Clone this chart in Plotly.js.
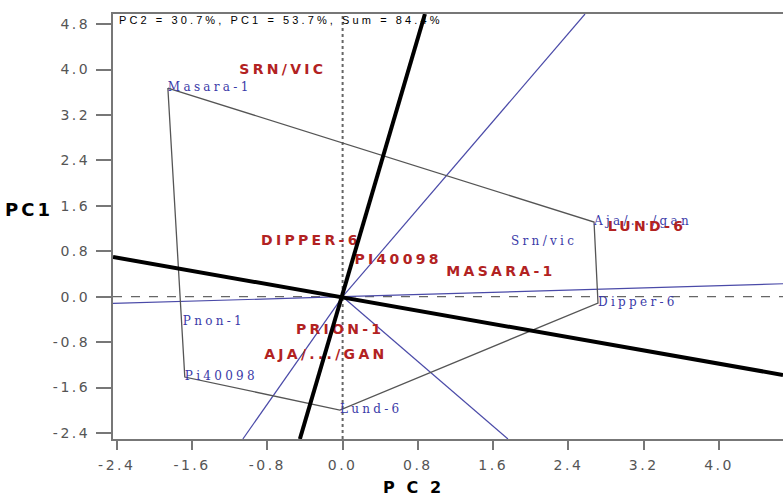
<!DOCTYPE html>
<html>
<head>
<meta charset="utf-8">
<script src="https://cdn.plot.ly/plotly-3.0.1.min.js"></script>
<style>
  html, body { margin: 0; padding: 0; background: #fff; }
  #chart { width: 783px; height: 496px; }
  .xtick text, .ytick text { letter-spacing: 2.5px; }
  .textpoint text { letter-spacing: 3.3px; }
  .annotation-text { letter-spacing: 3.1px; }
</style>
</head>
<body>
<div id="chart"></div>
<script>
// Genotypes (blue labels)
var genotypes = ['Masara-1', 'Aja/.../gan', 'Srn/vic', 'Dipper-6', 'Lund-6', 'Pi40098', 'Pnon-1'];
var genoX = [-1.857, 2.672, 1.79, 2.714, -0.029, -1.677, -1.698];
var genoY = [3.674, 1.315, 0.963, -0.111, -1.995, -1.414, -0.445];

// Polygon (convex hull) vertex order
var hullOrder = ['Masara-1', 'Aja/.../gan', 'Dipper-6', 'Lund-6', 'Pi40098', 'Masara-1'];

// Environments (red labels)
var environments = ['SRN/VIC', 'DIPPER-6', 'PI40098', 'MASARA-1', 'LUND-6', 'PRION-1', 'AJA/.../GAN'];
var envX = [-0.635, -0.337, 0.59, 1.683, 3.235, -0.026, -0.178];
var envY = [3.99, 0.98, 0.646, 0.435, 1.227, -0.586, -1.04];

// Rays from origin perpendicular to polygon sides (end points)
var rayEndX = [2.576, 4.68, 1.757, -1.06, -2.44];
var rayEndY = [4.977, 0.228, -2.505, -2.505, -0.119];

// Thick black axes
var axisAX = [-2.44, 4.68];
var axisAY = [0.699, -1.378];
var axisBX = [-0.454, 0.875];
var axisBY = [-2.505, 4.977];

// Tick values / labels
var xTickVals = [-2.4, -1.6, -0.8, 0.0, 0.8, 1.6, 2.4, 3.2, 4.0];
var xTickText = ['-2.4', '-1.6', '-0.8', '0.0', '0.8', '1.6', '2.4', '3.2', '4.0'];
var yTickVals = [-2.4, -1.6, -0.8, 0.0, 0.8, 1.6, 2.4, 3.2, 4.0, 4.8];
var yTickText = ['-2.4', '-1.6', '-0.8', '0.0', '0.8', '1.6', '2.4', '3.2', '4.0', '4.8'];

var subtitle = 'PC2 = 30.7%, PC1 = 53.7%, Sum = 84.4%';

var traces = [];

// Blue rays
var rx = [], ry = [];
for (var i = 0; i < rayEndX.length; i++) {
  rx.push(0, rayEndX[i], null);
  ry.push(0, rayEndY[i], null);
}
traces.push({
  x: rx, y: ry, mode: 'lines', type: 'scatter', hoverinfo: 'skip',
  line: { color: '#4a4aa8', width: 1.2 }, showlegend: false
});

// Polygon
var hx = [], hy = [];
hullOrder.forEach(function (g) {
  var k = genotypes.indexOf(g);
  hx.push(genoX[k]); hy.push(genoY[k]);
});
traces.push({
  x: hx, y: hy, mode: 'lines', type: 'scatter', hoverinfo: 'skip',
  line: { color: '#555555', width: 1.3 }, showlegend: false
});

// Genotype labels
traces.push({
  x: genoX, y: genoY, text: genotypes, mode: 'text', type: 'scatter',
  textposition: 'middle right', hoverinfo: 'text',
  textfont: { family: 'DejaVu Serif', size: 12, color: '#3a3aa8' },
  showlegend: false
});

// Environment labels
traces.push({
  x: envX, y: envY, text: environments, mode: 'text', type: 'scatter',
  textposition: 'middle center', hoverinfo: 'text',
  textfont: { family: 'DejaVu Sans', size: 14, color: '#b22222', weight: 'bold' },
  showlegend: false
});

// Thick black axes
traces.push({
  x: axisAX, y: axisAY, mode: 'lines', type: 'scatter', hoverinfo: 'skip',
  line: { color: '#000000', width: 4 }, showlegend: false
});
traces.push({
  x: axisBX, y: axisBY, mode: 'lines', type: 'scatter', hoverinfo: 'skip',
  line: { color: '#000000', width: 4 }, showlegend: false
});

var layout = {
  width: 783, height: 496,
  margin: { l: 113, r: 0, t: 14, b: 57, pad: 0 },
  paper_bgcolor: '#ffffff', plot_bgcolor: '#ffffff',
  showlegend: false,
  xaxis: {
    range: [-2.44, 4.68], showgrid: false, zeroline: false,
    showline: true, linecolor: '#777777', linewidth: 2, mirror: true,
    ticks: 'outside', ticklen: 9, tickwidth: 2, tickcolor: '#777777',
    tickvals: xTickVals, ticktext: xTickText, ticklabelstandoff: 3,
    tickfont: { family: 'DejaVu Sans', size: 14, color: '#555555' }
  },
  yaxis: {
    range: [-2.505, 4.977], showgrid: false, zeroline: false,
    showline: true, linecolor: '#777777', linewidth: 2, mirror: false,
    ticks: 'outside', ticklen: 15, tickwidth: 2, tickcolor: '#777777',
    tickvals: yTickVals, ticktext: yTickText, ticklabelstandoff: 3,
    tickfont: { family: 'DejaVu Sans', size: 14, color: '#555555' }
  },
  shapes: [
    { type: 'line', xref: 'x', yref: 'paper', x0: 0, x1: 0, y0: 0, y1: 1,
      line: { color: '#666666', width: 2, dash: 'dot' }, layer: 'below' },
    { type: 'line', xref: 'paper', yref: 'y', x0: 0, x1: 1, y0: 0, y1: 0,
      line: { color: '#666666', width: 1.3, dash: 'dash' }, layer: 'below' }
  ],
  annotations: [
    { text: subtitle, xref: 'paper', yref: 'paper', x: 0.006, y: 0.986,
      xanchor: 'left', yanchor: 'middle', showarrow: false,
      font: { family: 'Liberation Sans', size: 11, color: '#000000' } },
    { text: 'PC1', xref: 'paper', yref: 'paper', x: -0.125, y: 0.541,
      xanchor: 'center', yanchor: 'middle', showarrow: false,
      font: { family: 'DejaVu Sans', size: 18, color: '#000000', weight: 'bold' } },
    { text: 'P C 2', xref: 'paper', yref: 'paper', x: 0.448, y: -0.113,
      xanchor: 'center', yanchor: 'middle', showarrow: false,
      font: { family: 'DejaVu Sans', size: 16, color: '#000000', weight: 'bold' } }
  ]
};

Plotly.newPlot('chart', traces, layout, { displayModeBar: false, staticPlot: true });
</script>
</body>
</html>
